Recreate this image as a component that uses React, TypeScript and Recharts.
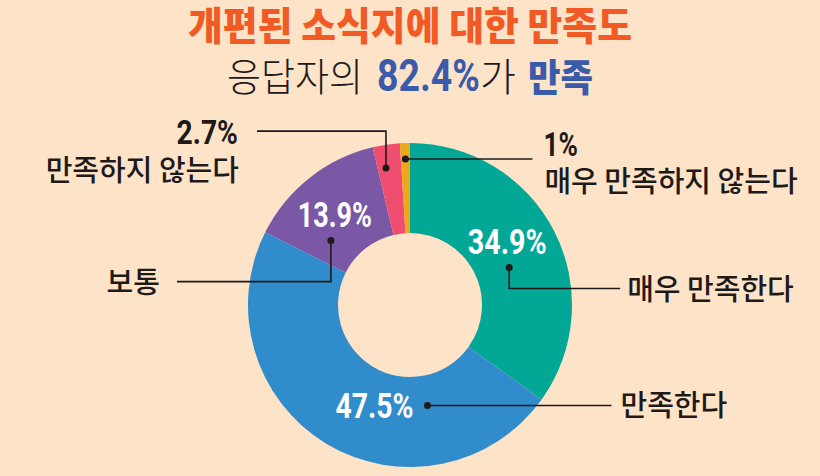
import { Cell, Pie, PieChart } from 'recharts';

const categories = ['매우 만족한다', '만족한다', '보통', '만족하지 않는다', '매우 만족하지 않는다'];
const values = [34.9, 47.5, 13.9, 2.7, 1];
const valueLabels = ['34.9%', '47.5%', '13.9%', '2.7%', '1%'];
const colors = ['#02A796', '#318CCB', '#7B58A5', '#EF4E70', '#ECA91C'];

const titleText = '개편된 소식지에 대한 만족도';
const subtitleParts = ['응답자의', '82.4%', '가', '만족'];

const BG = '#FDE3C8';
const INK = '#1E1A1A';
const KR = '"Noto Sans CJK KR", "Noto Sans", sans-serif';
const NUM = 'Roboto, "Liberation Sans", sans-serif';
const RAD = Math.PI / 180;

const data = categories.map((name, i) => ({ name, value: values[i], label: valueLabels[i] }));

// where each leader-line dot sits (angle shift from slice middle, radius)
const dotPlace = [
  { shift: 6.5, r: 106 },
  { shift: -41, r: 102 },
  { shift: -12.5, r: 102 },
  { shift: -1.5, r: 139 },
  { shift: 0, r: 146 },
];

const Num = ({ x, y, text, size, fill, anchor, sx }: any) => (
  <g transform={`translate(${x},${y}) scale(${sx},1)`}>
    <text x={0} y={0} textAnchor={anchor} fontFamily={NUM} fontWeight={700} fontSize={size} fill={fill}>
      {text}
    </text>
  </g>
);

const Kr = ({ x, y, text, anchor }: any) => (
  <text x={x} y={y} textAnchor={anchor} fontFamily={KR} fontWeight={500} fontSize={29} fill={INK}>
    {text}
  </text>
);

const renderLabel = (props: any) => {
  const { midAngle, index } = props;
  const cx = props.cx ?? 410;
  const cy = props.cy ?? 305;
  const p = dotPlace[index];
  const t = (90 - midAngle + p.shift) * RAD;
  const x = cx + p.r * Math.sin(t);
  const y = cy - p.r * Math.cos(t);
  let pts: number[][] = [];
  let txt: any = null;
  const name = categories[index];
  const lbl = valueLabels[index];
  if (index === 0) {
    pts = [[x, y], [x, y + 21], [x + 111, y + 21]];
    txt = (
      <>
        <Num x={x - 2} y={y - 14} text={lbl} size={35} fill="#fff" anchor="middle" sx={0.82} />
        <Kr x={x + 118} y={y + 32} text={name} anchor="start" />
      </>
    );
  } else if (index === 1) {
    pts = [[x, y], [x + 184, y]];
    txt = (
      <>
        <Num x={x - 53} y={y + 12.5} text={lbl} size={35} fill="#fff" anchor="middle" sx={0.81} />
        <Kr x={x + 193} y={y + 11} text={name} anchor="start" />
      </>
    );
  } else if (index === 2) {
    pts = [[x, y], [x, y + 41], [x - 154, y + 41]];
    txt = (
      <>
        <Num x={x + 4} y={y - 13.5} text={lbl} size={35} fill="#fff" anchor="middle" sx={0.77} />
        <Kr x={x - 171} y={y + 52} text={name} anchor="end" />
      </>
    );
  } else if (index === 3) {
    pts = [[x, y], [x, y - 37], [x - 129, y - 37]];
    txt = (
      <>
        <Num x={x - 148} y={y - 24} text={lbl} size={34} fill={INK} anchor="end" sx={0.83} />
        <Kr x={x - 147} y={y + 13} text={name} anchor="end" />
      </>
    );
  } else {
    pts = [[x, y], [x + 127, y]];
    txt = (
      <>
        <Num x={x + 138} y={y - 3} text={lbl} size={34} fill={INK} anchor="start" sx={0.77} />
        <Kr x={x + 139} y={y + 33} text={name} anchor="start" />
      </>
    );
  }
  return (
    <g key={`lbl-${index}`}>
      <polyline points={pts.map((q) => q.join(',')).join(' ')} fill="none" stroke={INK} strokeWidth={1.6} />
      <circle cx={x} cy={y} r={3.5} fill={INK} />
      {txt}
    </g>
  );
};

const App = () => {
  return (
    <div style={{ position: 'absolute', left: 0, top: 0, width: 820, height: 476, background: BG, overflow: 'hidden' }}>
      <PieChart width={820} height={476} margin={{ top: 0, right: 0, bottom: 0, left: 0 }}>
        <Pie
          data={data}
          dataKey="value"
          nameKey="name"
          cx={410}
          cy={305}
          innerRadius={72}
          outerRadius={162}
          startAngle={90}
          endAngle={-270}
          stroke="none"
          isAnimationActive={false}
          label={renderLabel}
          labelLine={false}
        >
          {data.map((d, i) => (
            <Cell key={d.name} fill={colors[i]} />
          ))}
        </Pie>
      </PieChart>
      <svg width={820} height={110} style={{ position: 'absolute', left: 0, top: 0, pointerEvents: 'none' }}>
        <text
          x={188}
          y={40}
          textLength={444}
          lengthAdjust="spacingAndGlyphs"
          fontFamily={KR}
          fontWeight={900}
          fontSize={39}
          fill="#F15A24"
        >
          {titleText}
        </text>
        <text x={227} y={91} textLength={136} lengthAdjust="spacingAndGlyphs" fontFamily={KR} fontWeight={300} fontSize={39} fill={INK}>
          {subtitleParts[0]}
        </text>
        <g transform="translate(377,91) scale(0.85,1)">
          <text x={0} y={0} fontFamily={NUM} fontWeight={700} fontSize={44} fill="#3A5BAA">
            {subtitleParts[1]}
          </text>
        </g>
        <text x={480} y={91} fontFamily={KR} fontWeight={300} fontSize={39} fill={INK}>
          {subtitleParts[2]}
        </text>
        <text x={528} y={91} textLength={65} lengthAdjust="spacingAndGlyphs" fontFamily={KR} fontWeight={900} fontSize={38} fill="#3A5BAA">
          {subtitleParts[3]}
        </text>
      </svg>
    </div>
  );
};

export default App;
